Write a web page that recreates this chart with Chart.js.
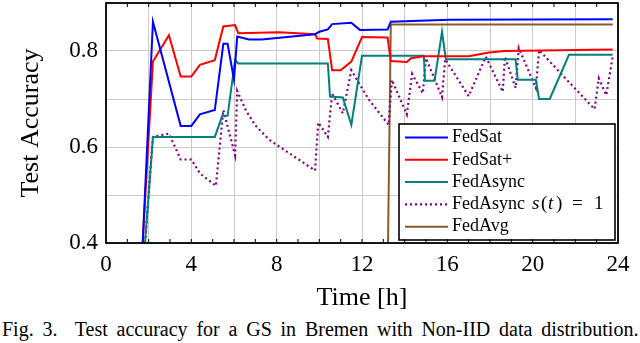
<!DOCTYPE html>
<html>
<head>
<meta charset="utf-8">
<script src="https://cdn.jsdelivr.net/npm/chart.js@4.4.1/dist/chart.umd.min.js"></script>
<style>
  body { margin: 0; background: #fff; }
  #wrap { position: relative; width: 640px; height: 343px; }
  #caption {
    position: absolute; left: 2px; top: 318px; width: 640px;
    font-family: "Liberation Serif", serif; font-size: 20px; color: #000;
    white-space: nowrap; word-spacing: 3.8px;
  }
</style>
</head>
<body>
<div id="wrap">
  <canvas id="acc" width="640" height="314"></canvas>
  <div id="caption">Fig. 3.&nbsp; Test accuracy for a GS in Bremen with Non-IID data distribution.</div>
</div>
<script>
// time in hours, accuracy
const fedSatTime = [1.72, 2.2, 3.5, 4.0, 4.4, 5.1, 5.5, 5.7, 6.0, 6.15, 6.7, 7.3, 9.8, 10.0, 10.4, 10.6, 11.5, 11.9, 13.2, 13.35, 16.1, 23.75];
const fedSatAcc  = [0.4, 0.861, 0.644, 0.644, 0.668, 0.677, 0.815, 0.815, 0.74, 0.83, 0.824, 0.824, 0.835, 0.84, 0.845, 0.856, 0.859, 0.844, 0.845, 0.861, 0.865, 0.866];

const fedSatPlusTime = [1.72, 2.2, 2.95, 3.5, 4.0, 4.4, 5.1, 5.5, 6.05, 6.2, 8.1, 9.8, 9.9, 10.4, 10.6, 11.0, 11.5, 12.0, 13.2, 13.35, 14.1, 14.3, 14.9, 17.0, 17.95, 18.7, 23.75];
const fedSatPlusAcc  = [0.4, 0.778, 0.833, 0.747, 0.747, 0.771, 0.781, 0.851, 0.854, 0.837, 0.839, 0.835, 0.826, 0.825, 0.76, 0.76, 0.778, 0.829, 0.828, 0.779, 0.777, 0.785, 0.789, 0.789, 0.797, 0.8, 0.803];

const fedAsyncTime = [1.83, 2.2, 5.1, 5.45, 5.7, 6.05, 6.2, 10.4, 10.5, 11.1, 11.5, 12.0, 14.9, 14.95, 15.4, 15.75, 15.93, 19.2, 19.3, 20.15, 20.3, 20.8, 21.7, 23.75];
const fedAsyncAcc  = [0.4, 0.621, 0.621, 0.665, 0.665, 0.781, 0.774, 0.774, 0.705, 0.703, 0.646, 0.79, 0.79, 0.738, 0.738, 0.84, 0.783, 0.783, 0.74, 0.74, 0.70, 0.70, 0.792, 0.792];

const fedAsyncS1Time = [1.83, 2.2, 2.95, 3.5, 4.0, 4.4, 5.15, 5.5, 6.05, 6.15, 6.55, 7.0, 7.65, 9.8, 9.95, 10.4, 10.6, 11.1, 11.5, 12.3, 13.25, 13.4, 14.1, 14.35, 14.85, 15.0, 15.75, 15.9, 17.0, 17.8, 18.6, 18.7, 19.2, 19.35, 20.15, 20.3, 21.6, 22.9, 23.1, 23.45, 23.75];
const fedAsyncS1Acc  = [0.4, 0.621, 0.628, 0.574, 0.574, 0.545, 0.519, 0.677, 0.583, 0.717, 0.677, 0.645, 0.615, 0.551, 0.651, 0.621, 0.712, 0.67, 0.76, 0.70, 0.646, 0.74, 0.668, 0.752, 0.712, 0.785, 0.704, 0.783, 0.706, 0.788, 0.715, 0.788, 0.723, 0.806, 0.723, 0.802, 0.74, 0.679, 0.743, 0.708, 0.788];

const fedAvgTime = [13.22, 13.35, 23.75];
const fedAvgAcc  = [0.4, 0.855, 0.855];

const xTicks = [0, 4, 8, 12, 16, 20, 24];
const yTicks = [0.4, 0.6, 0.8];

const serif = '"Liberation Serif", "Times New Roman", serif';

function pts(t, a) {
  return t.map((v, i) => ({ x: v, y: a[i] }));
}

function line(label, t, a, color, dash) {
  return {
    label: label,
    data: pts(t, a),
    borderColor: color,
    backgroundColor: color,
    borderWidth: dash ? 2.2 : 2,
    borderDash: dash || [],
    pointRadius: 0,
    tension: 0,
    fill: false
  };
}

// white legend box in the lower right corner of the plot
const boxLegend = {
  id: 'boxLegend',
  afterDatasetsDraw(chart) {
    const c = chart.ctx;
    const a = chart.chartArea;
    const x0 = a.right - 219, y0 = a.bottom - 119, w = 216, h = 116;
    c.save();
    c.fillStyle = '#fff';
    c.fillRect(x0, y0, w, h);
    c.strokeStyle = '#000';
    c.lineWidth = 1.6;
    c.strokeRect(x0, y0, w, h);
    chart.data.datasets.forEach((ds, i) => {
      const y = y0 + 13.5 + i * 22.3;
      c.beginPath();
      c.strokeStyle = ds.borderColor;
      c.lineWidth = ds.borderWidth;
      c.setLineDash(ds.borderDash);
      c.moveTo(x0 + 6, y);
      c.lineTo(x0 + 49, y);
      c.stroke();
      c.setLineDash([]);
      c.fillStyle = '#000';
      c.textBaseline = 'middle';
      const x = x0 + 53;
      const parts = ds.label.split(' s(t) = 1');
      c.font = '18px ' + serif;
      c.fillText(parts[0], x, y);
      if (parts.length > 1) {
        // math part, set a bit wider like the TeX original
        const seg = [['s', true, 80], ['(', false, 89], ['t', true, 96], [')', false, 104], ['=', false, 120], ['1', false, 142]];
        seg.forEach(s => {
          c.font = (s[1] ? 'italic ' : '') + '19px ' + serif;
          c.fillText(s[0], x + s[2], y);
        });
      }
    });
    c.restore();
  },
  afterDraw(chart) {
    const c = chart.ctx;
    const a = chart.chartArea;
    const xs = chart.scales.x;
    c.save();
    c.strokeStyle = '#000';
    c.lineWidth = 1;
    // minor ticks every hour, top and bottom
    for (let t = 1; t < 24; t++) {
      const px = xs.getPixelForValue(t);
      c.beginPath();
      c.moveTo(px, a.bottom); c.lineTo(px, a.bottom - 4);
      c.moveTo(px, a.top); c.lineTo(px, a.top + 4);
      c.stroke();
    }
    c.lineWidth = 1.8;
    c.strokeRect(a.left, a.top, a.right - a.left, a.bottom - a.top);
    c.restore();
  }
};

new Chart(document.getElementById('acc'), {
  type: 'line',
  data: {
    datasets: [
      line('FedSat', fedSatTime, fedSatAcc, '#0000ff'),
      line('FedSat+', fedSatPlusTime, fedSatPlusAcc, '#ff0000'),
      line('FedAsync', fedAsyncTime, fedAsyncAcc, '#008080'),
      line('FedAsync s(t) = 1', fedAsyncS1Time, fedAsyncS1Acc, '#800080', [2, 3]),
      line('FedAvg', fedAvgTime, fedAvgAcc, '#8b5a2b')
    ]
  },
  options: {
    responsive: false,
    animation: false,
    layout: { padding: { top: 3, right: 22, left: 0, bottom: 0 } },
    plugins: { legend: { display: false }, tooltip: { enabled: false } },
    scales: {
      x: {
        type: 'linear',
        min: 0,
        max: 24,
        afterFit: s => { s.height = 71; s.paddingLeft = 0; s.paddingRight = 0; },
        ticks: {
          stepSize: 1,
          autoSkip: false,
          maxRotation: 0,
          padding: 8,
          color: '#000',
          font: { family: serif, size: 23 },
          callback: v => xTicks.includes(v) ? String(v) : ''
        },
        grid: {
          drawTicks: false,
          color: ctx => (ctx.tick && ctx.tick.value % 2 === 0) ? '#cccccc' : 'rgba(0,0,0,0)'
        },
        border: { display: false },
        title: {
          display: true,
          text: 'Time [h]',
          color: '#000',
          font: { family: serif, size: 26 },
          padding: { top: 0, bottom: 0 }
        }
      },
      y: {
        min: 0.4,
        max: 0.9,
        afterFit: s => { s.width = 106; s.paddingTop = 0; s.paddingBottom = 0; },
        ticks: {
          stepSize: 0.1,
          padding: 8,
          color: '#000',
          font: { family: serif, size: 23 },
          callback: v => yTicks.some(t => Math.abs(t - v) < 1e-6) ? v.toFixed(1) : ''
        },
        grid: { drawTicks: false, color: '#cccccc' },
        border: { display: false },
        title: {
          display: true,
          text: 'Test Accuracy',
          color: '#000',
          font: { family: serif, size: 26 },
          padding: { top: 16, bottom: 0 }
        }
      }
    }
  },
  plugins: [boxLegend]
});
</script>
</body>
</html>
